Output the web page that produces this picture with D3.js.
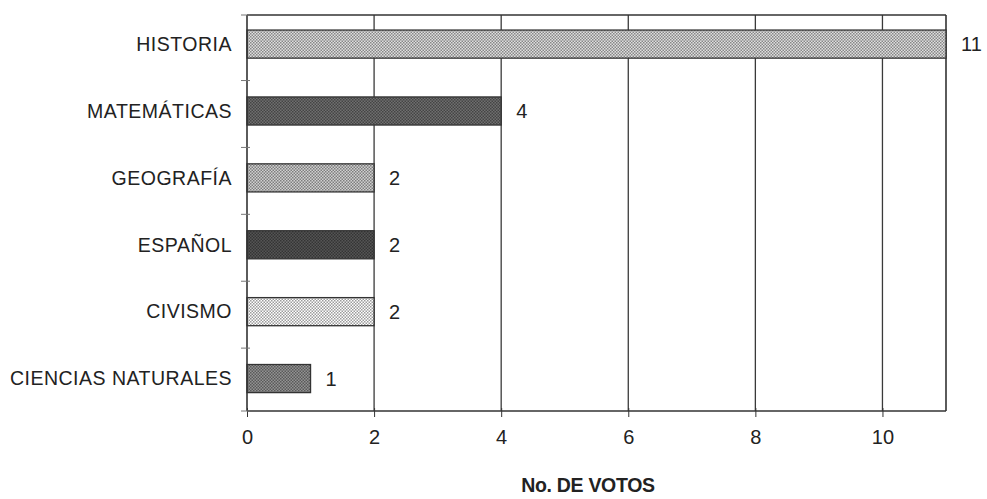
<!DOCTYPE html>
<html>
<head>
<meta charset="utf-8">
<script src="https://cdn.jsdelivr.net/npm/d3@7"></script>
<style>
  body { margin: 0; background: #fff; }
  svg { font-family: "Liberation Sans", Arial, sans-serif; }
</style>
</head>
<body>
<svg id="chart" width="987" height="499"></svg>
<script>
// data
const materias = ['HISTORIA', 'MATEMÁTICAS', 'GEOGRAFÍA', 'ESPAÑOL', 'CIVISMO', 'CIENCIAS NATURALES'];
const votos = [11, 4, 2, 2, 2, 1];
const xTicks = [0, 2, 4, 6, 8, 10];
const tonos = ['#b4b4b4', '#5a5a5a', '#a8a8a8', '#454545', '#cfcfcf', '#777777'];

const svg = d3.select('#chart');
const margin = { top: 15, right: 41, bottom: 88, left: 247 };
const width = 987 - margin.left - margin.right;   // 699
const height = 499 - margin.top - margin.bottom;  // 396

// dotted fill patterns, one per bar
const defs = svg.append('defs');
tonos.forEach((c, i) => {
  const p = defs.append('pattern')
    .attr('id', 'pat' + i)
    .attr('width', 3).attr('height', 3)
    .attr('patternUnits', 'userSpaceOnUse');
  p.append('rect').attr('width', 3).attr('height', 3).attr('fill', d3.color(c).brighter(0.6));
  p.append('rect').attr('width', 1.5).attr('height', 1.5).attr('fill', d3.color(c).darker(0.8));
  p.append('rect').attr('x', 1.5).attr('y', 1.5).attr('width', 1.5).attr('height', 1.5).attr('fill', d3.color(c).darker(0.8));
});

const g = svg.append('g').attr('transform', `translate(${margin.left},${margin.top})`);

const x = d3.scaleLinear().domain([0, 11]).range([0, width]);
const y = d3.scaleBand().domain(materias).range([0, height])
  .paddingInner(0.58).paddingOuter(0.25).align(0.45);

// vertical grid lines
g.selectAll('.grid')
  .data(xTicks.filter(d => d > 0))
  .join('line')
  .attr('x1', d => x(d)).attr('x2', d => x(d))
  .attr('y1', 0).attr('y2', height)
  .attr('stroke', '#3a3a3a').attr('stroke-width', 1.3);

// frame: top and right edges
g.append('line').attr('x1', 0).attr('x2', width).attr('y1', 0).attr('y2', 0)
  .attr('stroke', '#333').attr('stroke-width', 1.6);
g.append('line').attr('x1', width).attr('x2', width).attr('y1', 0).attr('y2', height)
  .attr('stroke', '#333').attr('stroke-width', 1.6);

// bars
g.selectAll('.bar')
  .data(materias)
  .join('rect')
  .attr('x', 0)
  .attr('y', d => y(d))
  .attr('width', (d, i) => x(votos[i]))
  .attr('height', y.bandwidth())
  .attr('fill', (d, i) => `url(#pat${i})`)
  .attr('stroke', '#333').attr('stroke-width', 1.3);

// value labels
g.selectAll('.val')
  .data(materias)
  .join('text')
  .attr('x', (d, i) => x(votos[i]) + 15)
  .attr('y', d => y(d) + y.bandwidth() / 2)
  .attr('dy', '0.35em')
  .attr('font-size', 20)
  .attr('fill', '#222')
  .text((d, i) => votos[i]);

// x axis
const xAxis = g.append('g')
  .attr('transform', `translate(0,${height})`)
  .call(d3.axisBottom(x).tickValues(xTicks).tickSize(6).tickPadding(13));
xAxis.select('.domain').attr('stroke', '#333').attr('stroke-width', 1.6).attr('d', `M0,0H${width}`);
xAxis.selectAll('.tick line').attr('stroke', '#333').attr('y1', -3);
xAxis.selectAll('.tick text').attr('font-size', 20).attr('fill', '#222')
  .attr('font-family', 'Liberation Sans, Arial, sans-serif');

// y axis with ticks between categories
const yAxis = g.append('g');
yAxis.append('line').attr('x1', 0).attr('x2', 0).attr('y1', 0).attr('y2', height)
  .attr('stroke', '#333').attr('stroke-width', 1.6);
const centros = materias.map(d => y(d) + y.bandwidth() / 2);
const cortes = [0].concat(centros.slice(1).map((c, i) => (c + centros[i]) / 2 + 3), [height]);
yAxis.selectAll('.ytick')
  .data(cortes)
  .join('line')
  .attr('x1', -6).attr('x2', 3)
  .attr('y1', d => d).attr('y2', d => d)
  .attr('stroke', '#777');

yAxis.selectAll('.cat')
  .data(materias)
  .join('text')
  .attr('x', -15)
  .attr('y', d => y(d) + y.bandwidth() / 2)
  .attr('dy', '0.35em')
  .attr('text-anchor', 'end')
  .attr('font-size', 19.5)
  .attr('letter-spacing', 0.5)
  .attr('fill', '#222')
  .text(d => d);

// axis title
svg.append('text')
  .attr('x', 588)
  .attr('y', 492)
  .attr('text-anchor', 'middle')
  .attr('font-size', 19.5)
  .attr('font-weight', 'bold')
  .attr('letter-spacing', -0.3)
  .attr('fill', '#222')
  .text('No. DE VOTOS');
</script>
</body>
</html>
